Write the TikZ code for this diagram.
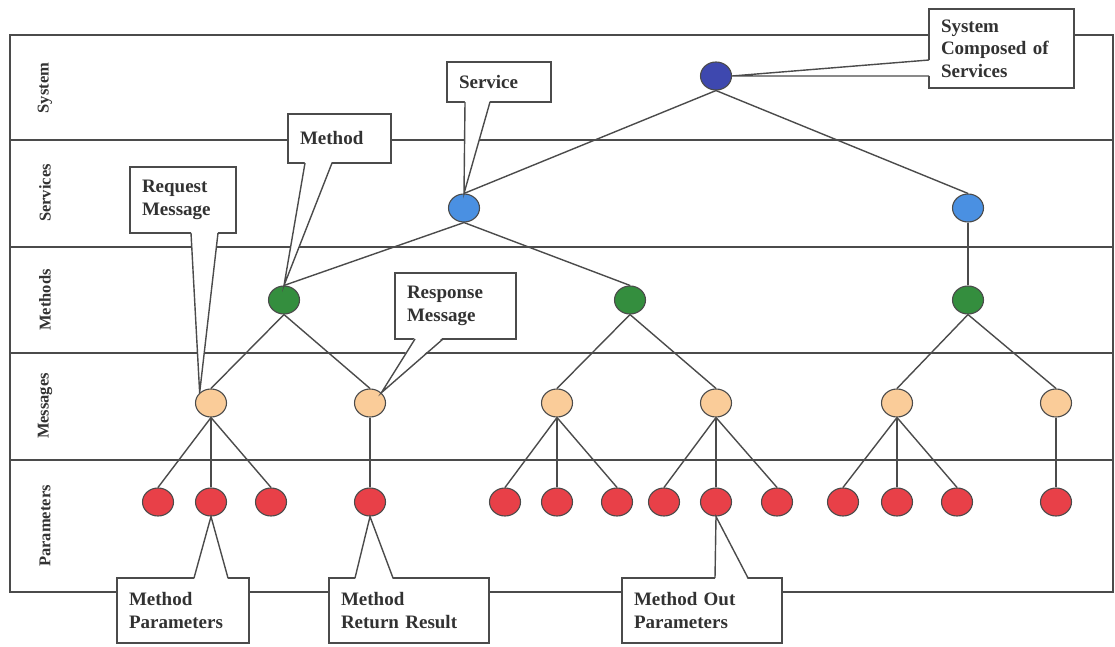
\documentclass[tikz,border=0pt]{standalone}
\usepackage{fontspec}
\setmainfont{Liberation Serif}
\usepackage{tikz}
\usetikzlibrary{shapes.geometric,calc}

\definecolor{linegray}{RGB}{75,75,75}
\definecolor{textgray}{RGB}{50,50,50}
\definecolor{sysblue}{RGB}{62,72,175}
\definecolor{svcblue}{RGB}{74,144,226}
\definecolor{methgreen}{RGB}{52,142,62}
\definecolor{msgpeach}{RGB}{250,204,153}
\definecolor{parred}{RGB}{232,64,72}

\begin{document}
\begin{tikzpicture}[x=1pt, y=-1pt,
    band/.style={draw=linegray, line width=1.5pt},
    edge/.style={draw=linegray, line width=1.4pt},
    dot/.style={ellipse, draw=linegray, line width=1.1pt, minimum width=31pt,
        minimum height=28pt, inner sep=0pt},
    sysdot/.style={dot, fill=sysblue},
    svcdot/.style={dot, fill=svcblue},
    methdot/.style={dot, fill=methgreen},
    msgdot/.style={dot, fill=msgpeach},
    pardot/.style={dot, fill=parred},
    rowlabel/.style={rotate=90, text=textgray, font=\bfseries\fontsize{16.5}{18}\selectfont},
    note/.style 2 args={draw=linegray, fill=white, line width=1.4pt, outer sep=0pt,
        text=textgray, align=left, inner xsep=12pt, inner ysep=0pt, text width=#1,
        minimum height=#2, font=\bfseries\fontsize{19}{22.5}\selectfont},
    tail/.style={fill=white}]

    \useasboundingbox (0,0) rectangle (1115,647);

    % rows
    \draw[band] (10,35) rectangle (1113,592);
    \draw[band] (10,140) -- (1113,140);
    \draw[band] (10,247) -- (1113,247);
    \draw[band] (10,353) -- (1113,353);
    \draw[band] (10,460) -- (1113,460);

    \node[rowlabel] (lblSys) at (45,88) {System};
    \node[rowlabel] (lblSvc) at (45,193) {Services};
    \node[rowlabel] (lblMeth) at (45,300) {Methods};
    \node[rowlabel] (lblMsg) at (45,406) {Messages};
    \node[rowlabel] (lblPar) at (45,526) {Parameters};

    % tree
    \node[sysdot] (sys) at (716,76) {};
    \node[svcdot] (svcA) at (464,208) {};
    \node[svcdot] (svcB) at (968,208) {};
    \node[methdot] (methA) at (284,300) {};
    \node[methdot] (methB) at (630,300) {};
    \node[methdot] (methC) at (968,300) {};
    \node[msgdot] (msgA) at (211,403) {};
    \node[msgdot] (msgB) at (370,403) {};
    \node[msgdot] (msgC) at (557,403) {};
    \node[msgdot] (msgD) at (716,403) {};
    \node[msgdot] (msgE) at (897,403) {};
    \node[msgdot] (msgF) at (1056,403) {};
    \node[pardot] (parA) at (158,502) {};
    \node[pardot] (parB) at (211,502) {};
    \node[pardot] (parC) at (271,502) {};
    \node[pardot] (parD) at (370,502) {};
    \node[pardot] (parE) at (505,502) {};
    \node[pardot] (parF) at (557,502) {};
    \node[pardot] (parG) at (617,502) {};
    \node[pardot] (parH) at (664,502) {};
    \node[pardot] (parI) at (716,502) {};
    \node[pardot] (parJ) at (777,502) {};
    \node[pardot] (parK) at (843,502) {};
    \node[pardot] (parL) at (897,502) {};
    \node[pardot] (parM) at (957,502) {};
    \node[pardot] (parN) at (1056,502) {};

    \draw[edge] (sys.south) -- (svcA.north);
    \draw[edge] (sys.south) -- (svcB.north);
    \draw[edge] (svcA.south) -- (methA.north);
    \draw[edge] (svcA.south) -- (methB.north);
    \draw[edge] (svcB.south) -- (methC.north);
    \draw[edge] (methA.south) -- (msgA.north);
    \draw[edge] (methA.south) -- (msgB.north);
    \draw[edge] (methB.south) -- (msgC.north);
    \draw[edge] (methB.south) -- (msgD.north);
    \draw[edge] (methC.south) -- (msgE.north);
    \draw[edge] (methC.south) -- (msgF.north);
    \draw[edge] (msgA.south) -- (parA.north);
    \draw[edge] (msgA.south) -- (parB.north);
    \draw[edge] (msgA.south) -- (parC.north);
    \draw[edge] (msgB.south) -- (parD.north);
    \draw[edge] (msgC.south) -- (parE.north);
    \draw[edge] (msgC.south) -- (parF.north);
    \draw[edge] (msgC.south) -- (parG.north);
    \draw[edge] (msgD.south) -- (parH.north);
    \draw[edge] (msgD.south) -- (parI.north);
    \draw[edge] (msgD.south) -- (parJ.north);
    \draw[edge] (msgE.south) -- (parK.north);
    \draw[edge] (msgE.south) -- (parL.north);
    \draw[edge] (msgE.south) -- (parM.north);
    \draw[edge] (msgF.south) -- (parN.north);

    % callouts
    \node[note={121pt}{79pt}] (noteSys) at (1001.5,48.5) {System\\Composed of\\Services};
    \node[note={80pt}{40pt}] (noteSvc) at (499,82) {Service};
    \node[note={79pt}{49pt}] (noteMeth) at (339.5,138.5) {Method};
    \node[note={82pt}{66pt}] (noteReq) at (183,200) {Request\\Message};
    \node[note={97pt}{66pt}] (noteResp) at (455.5,306) {Response\\Message};
    \node[note={108pt}{65pt}] (notePar) at (183,610.5) {Method\\Parameters};
    \node[note={136pt}{65pt}] (noteRet) at (409,610.5) {Method\\Return Result};
    \node[note={136pt}{65pt}] (noteOut) at (702,610.5) {Method Out\\Parameters};

    \fill[tail] ([xshift=1.8pt,yshift=-51pt]noteSys.north west) -- (sys.east)
        -- ([xshift=1.8pt,yshift=-67pt]noteSys.north west) -- cycle;
    \draw[edge] ([yshift=-51pt]noteSys.north west) -- (sys.east)
        -- ([yshift=-67pt]noteSys.north west);

    \fill[tail] ([xshift=18pt,yshift=1.8pt]noteSvc.south west) -- (svcA.north)
        -- ([xshift=43pt,yshift=1.8pt]noteSvc.south west) -- cycle;
    \draw[edge] ([xshift=18pt]noteSvc.south west) -- (svcA.north)
        -- ([xshift=43pt]noteSvc.south west);

    \fill[tail] ([xshift=17pt,yshift=1.8pt]noteMeth.south west) -- (methA.north)
        -- ([xshift=44pt,yshift=1.8pt]noteMeth.south west) -- cycle;
    \draw[edge] ([xshift=17pt]noteMeth.south west) -- (methA.north)
        -- ([xshift=44pt]noteMeth.south west);

    \fill[tail] ([xshift=61pt,yshift=1.8pt]noteReq.south west) -- (msgA.north west)
        -- ([xshift=88pt,yshift=1.8pt]noteReq.south west) -- cycle;
    \draw[edge] ([xshift=61pt]noteReq.south west) -- (msgA.north west)
        -- ([xshift=88pt]noteReq.south west);

    \fill[tail] ([xshift=20pt,yshift=1.8pt]noteResp.south west) -- (msgB.north east)
        -- ([xshift=48pt,yshift=1.8pt]noteResp.south west) -- cycle;
    \draw[edge] ([xshift=20pt]noteResp.south west) -- (msgB.north east)
        -- ([xshift=48pt]noteResp.south west);

    \fill[tail] ([xshift=77pt,yshift=-1.8pt]notePar.north west) -- (parB.south)
        -- ([xshift=111pt,yshift=-1.8pt]notePar.north west) -- cycle;
    \draw[edge] ([xshift=77pt]notePar.north west) -- (parB.south)
        -- ([xshift=111pt]notePar.north west);

    \fill[tail] ([xshift=26pt,yshift=-1.8pt]noteRet.north west) -- (parD.south)
        -- ([xshift=64pt,yshift=-1.8pt]noteRet.north west) -- cycle;
    \draw[edge] ([xshift=26pt]noteRet.north west) -- (parD.south)
        -- ([xshift=64pt]noteRet.north west);

    \fill[tail] ([xshift=93pt,yshift=-1.8pt]noteOut.north west) -- (parI.south)
        -- ([xshift=126pt,yshift=-1.8pt]noteOut.north west) -- cycle;
    \draw[edge] ([xshift=93pt]noteOut.north west) -- (parI.south)
        -- ([xshift=126pt]noteOut.north west);

\end{tikzpicture}
\end{document}
